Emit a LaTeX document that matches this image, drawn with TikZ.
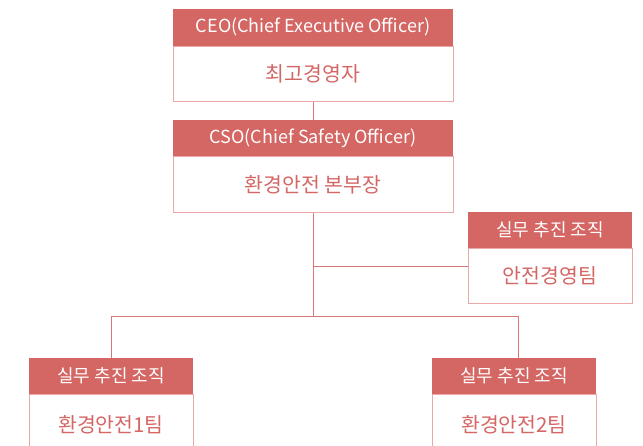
\documentclass[tikz,border=0pt]{standalone}
\usepackage{fontspec}
\setmainfont{Noto Sans CJK KR}
\usepackage{tikz}
\usetikzlibrary{positioning}
\definecolor{headred}{HTML}{D46664}
\definecolor{linered}{HTML}{D97778}
\definecolor{boxpink}{HTML}{EAA8A8}

\begin{document}
\begin{tikzpicture}[x=1pt,y=-1pt,
	head/.style={fill=headred,text=white,font=\fontsize{18}{18}\selectfont,inner sep=0pt,minimum height=36pt},
	body/.style={draw=boxpink,line width=1pt,fill=white,text=headred,font=\fontsize{20.5}{20.5}\selectfont,inner sep=0pt,anchor=north},
	link/.style={draw=linered,line width=1pt}]
	% Page size
	\useasboundingbox (0,0) rectangle (643,445);
	\clip (0,0) rectangle (643,445);
	% Top boxes
	\node[body,minimum width=280pt,minimum height=55pt] (ceoBody) at (313,46) {최고경영자};
	\node[head,minimum width=280pt,minimum height=37pt,above=0pt of ceoBody] (ceoHead) {CEO(Chief Executive Officer)};
	\node[body,minimum width=280pt,minimum height=56pt] (csoBody) at (313,156) {환경안전 본부장};
	\node[head,minimum width=280pt,above=0pt of csoBody] (csoHead) {CSO(Chief Safety Officer)};
	% Side box
	\node[body,minimum width=164pt,minimum height=55pt] (mgmtBody) at (550,248) {안전경영팀};
	\node[head,minimum width=164pt,above=0pt of mgmtBody] (mgmtHead) {실무 추진 조직};
	% Bottom boxes
	\foreach \name/\x/\label in {teamA/111/환경안전1팀,teamB/514/환경안전2팀}{
		\node[body,minimum width=164pt,minimum height=60pt] (\name Body) at (\x,394) {\label};
		\node[head,minimum width=164pt,above=0pt of \name Body] (\name Head) {실무 추진 조직};}
	% Connectors
	\coordinate (tap) at (313,266);
	\coordinate (split) at (313,316);
	\draw[link] (ceoBody.south) -- (csoHead.north);
	\draw[link] (csoBody.south) -- (split);
	\draw[link] (tap) -- (tap -| mgmtBody.west);
	\draw[link] (split) -| (teamAHead.north);
	\draw[link] (split) -| ([xshift=4pt]teamBHead.north);
\end{tikzpicture}
\end{document}
